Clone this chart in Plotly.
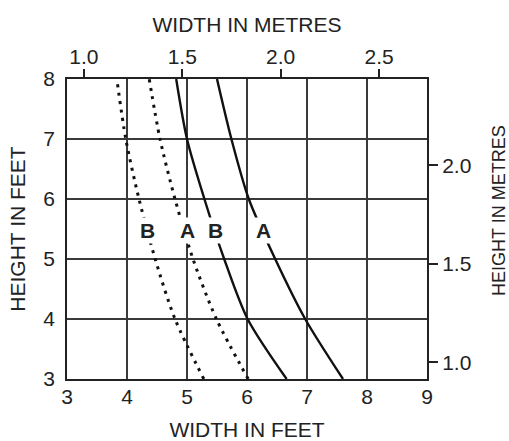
import plotly.graph_objects as go

FT_PER_M = 3.2808

heights_ft = [3, 4, 5, 6, 7, 8]
dotted_B_width_ft = [5.28, 4.80, 4.47, 4.20, 3.98, 3.83]
dotted_A_width_ft = [6.02, 5.49, 5.10, 4.80, 4.55, 4.37]
solid_B_width_ft = [6.66, 6.01, 5.62, 5.29, 5.00, 4.82]
solid_A_width_ft = [7.60, 6.97, 6.47, 6.03, 5.74, 5.50]

label_texts = ["B", "A", "B", "A"]
label_x_ft = [4.34, 5.0, 5.47, 6.27]
label_y_ft = [5.48, 5.48, 5.48, 5.48]

x_ticks_ft = [3, 4, 5, 6, 7, 8, 9]
y_ticks_ft = [3, 4, 5, 6, 7, 8]
x_ticks_m = [1.0, 1.5, 2.0, 2.5]
y_ticks_m = [1.0, 1.5, 2.0]

FONT = "Liberation Sans, Arial, Helvetica, sans-serif"
FS = 21
TXT = "#222"

fig = go.Figure()
dot_style = dict(color="#111", width=3, dash="3px,5.5px", shape="spline", smoothing=0.8)
solid_style = dict(color="#111", width=2.4, shape="spline", smoothing=0.8)
for xs, style in [(dotted_B_width_ft, dot_style), (dotted_A_width_ft, dot_style),
                  (solid_B_width_ft, solid_style), (solid_A_width_ft, solid_style)]:
    fig.add_trace(go.Scatter(x=xs, y=heights_ft, mode="lines", line=style,
                             showlegend=False, hoverinfo="skip"))

# same curve expressed in metres, on the metric axes (invisible, keeps those axes drawn)
fig.add_trace(go.Scatter(x=[v / FT_PER_M for v in solid_A_width_ft],
                         y=[v / FT_PER_M for v in heights_ft],
                         xaxis="x2", yaxis="y2", mode="lines",
                         line=dict(color="rgba(0,0,0,0)", width=0),
                         showlegend=False, hoverinfo="skip"))

for t, x, y in zip(label_texts, label_x_ft, label_y_ft):
    fig.add_annotation(x=x, y=y, xref="x", yref="y", text="<b>%s</b>" % t,
                       showarrow=False, bgcolor="white", borderpad=1,
                       font=dict(family=FONT, size=FS, color=TXT))

# right-hand axis title (sits a little above the plot centre in the reference)
fig.add_annotation(x=1, y=0.56, xref="paper", yref="paper", text="HEIGHT IN METRES",
                   textangle=-90, showarrow=False, xanchor="center", yanchor="middle",
                   xshift=72, borderpad=0, font=dict(family=FONT, size=18, color=TXT))

grid = dict(showgrid=True, gridcolor="#3a3a3a", gridwidth=1.5, zeroline=False,
            showline=True, linecolor="#222", linewidth=1.5, mirror=True,
            ticks="", automargin=False, tickfont=dict(family=FONT, size=FS, color=TXT))

fig.update_layout(
    width=509, height=441,
    margin=dict(l=67, r=82, t=79, b=62),
    paper_bgcolor="white", plot_bgcolor="white",
    font=dict(family=FONT, size=FS, color=TXT),
    xaxis=dict(range=[3, 9], tickvals=x_ticks_ft, ticktext=[str(v) for v in x_ticks_ft],
               ticklabelstandoff=-2,
               title=dict(text="WIDTH IN FEET", standoff=16,
                          font=dict(family=FONT, size=FS, color=TXT)), **grid),
    yaxis=dict(range=[3, 8], tickvals=y_ticks_ft, ticktext=[str(v) for v in y_ticks_ft],
               ticklabelstandoff=6,
               title=dict(text="HEIGHT IN FEET", standoff=12,
                          font=dict(family=FONT, size=FS, color=TXT)), **grid),
    xaxis2=dict(overlaying="x", side="top", anchor="y",
                range=[3 / FT_PER_M, 9 / FT_PER_M],
                tickvals=x_ticks_m, ticktext=["%.1f" % v for v in x_ticks_m],
                ticks="outside", ticklen=9, tickwidth=1.5, tickcolor="#222",
                ticklabelstandoff=-3,
                showgrid=False, zeroline=False, showline=False, automargin=False,
                tickfont=dict(family=FONT, size=FS, color=TXT),
                title=dict(text="WIDTH IN METRES", standoff=6,
                           font=dict(family=FONT, size=FS, color=TXT))),
    yaxis2=dict(overlaying="y", side="right", anchor="x",
                range=[3 / FT_PER_M, 8 / FT_PER_M],
                tickvals=y_ticks_m, ticktext=["%.1f" % v for v in y_ticks_m],
                ticks="outside", ticklen=10, tickwidth=1.5, tickcolor="#222",
                showgrid=False, zeroline=False, showline=False, automargin=False,
                tickfont=dict(family=FONT, size=FS, color=TXT)),
)

fig.write_html("out.html", config={"displayModeBar": False},
               post_script="document.body.style.margin='0';document.body.style.overflow='hidden';")
